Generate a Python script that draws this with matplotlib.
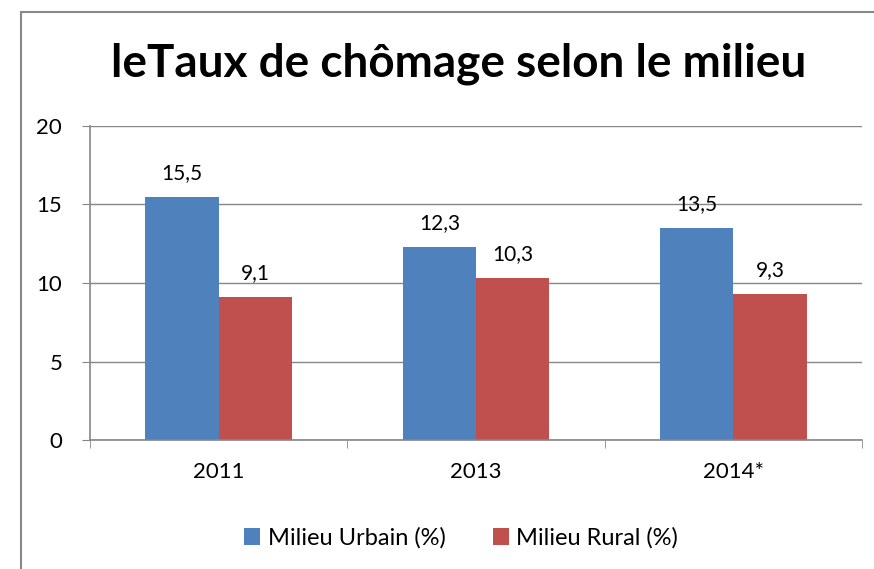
import matplotlib
matplotlib.use("Agg")
import matplotlib.pyplot as plt
from matplotlib.patches import Rectangle
import numpy as np

categories = ["2011", "2013", "2014*"]
urbain = [15.5, 12.3, 13.5]
rural = [9.1, 10.3, 9.3]
urbain_labels = ["15,5", "12,3", "13,5"]
rural_labels = ["9,1", "10,3", "9,3"]
yticks = [0, 5, 10, 15, 20]

plt.rcParams['font.family'] = ['Lato', 'DejaVu Sans']

fig = plt.figure(figsize=(8.74, 5.69), dpi=100)
fig.patches.append(Rectangle((21/874, -0.1), 1.2, 1.1 - 12/569, transform=fig.transFigure,
                             fill=False, edgecolor='#888888', linewidth=1.5))

ax = fig.add_axes([90/874, 1-440/569, (862-90)/874, (440-126)/569])
x = np.arange(len(categories))
w = 0.285
b1 = ax.bar(x - w/2, urbain, w, color='#4F81BD', label='Milieu Urbain (%)')
b2 = ax.bar(x + w/2, rural, w, color='#C0504D', label='Milieu Rural (%)')

for rect, lab in zip(b1, urbain_labels):
    ax.annotate(lab, (rect.get_x() + rect.get_width()/2, rect.get_height()),
                xytext=(0, 10), textcoords='offset points', ha='center', va='bottom', fontsize=15)
for rect, lab in zip(b2, rural_labels):
    ax.annotate(lab, (rect.get_x() + rect.get_width()/2, rect.get_height()),
                xytext=(0, 10), textcoords='offset points', ha='center', va='bottom', fontsize=15)

ax.set_xlim(-0.5, len(categories) - 0.5)
ax.set_ylim(0, 20)
ax.set_yticks(yticks)
ax.set_yticklabels([str(t) for t in yticks], fontsize=16)
ax.yaxis.grid(True, color='#868686', linewidth=1)
ax.set_axisbelow(True)
for s in ['top', 'right']:
    ax.spines[s].set_visible(False)
ax.spines['left'].set_color('#868686')
ax.spines['bottom'].set_color('#868686')
ax.spines['left'].set_linewidth(1.2)
ax.spines['bottom'].set_linewidth(1.2)
ax.tick_params(axis='y', length=6, color='#868686', pad=14)
ax.set_xticks(x)
ax.set_xticklabels(categories, fontsize=16)
ax.tick_params(axis='x', length=0, pad=16)
ax.set_xticks(np.arange(-0.5, len(categories), 1.0), minor=True)
ax.tick_params(axis='x', which='minor', length=6, color='#868686')

fig.text(459/874, 1-64/569, "leTaux de chômage selon le milieu", ha='center', va='center',
         fontsize=33, fontweight='bold')

fig.legend(handles=[b1, b2], loc='center', bbox_to_anchor=(461/874, 1-538/569), ncol=2,
           frameon=False, fontsize=17, handlelength=0.7, handleheight=0.7, handletextpad=0.3,
           columnspacing=2.0)

fig.savefig("out.png", dpi=100)
